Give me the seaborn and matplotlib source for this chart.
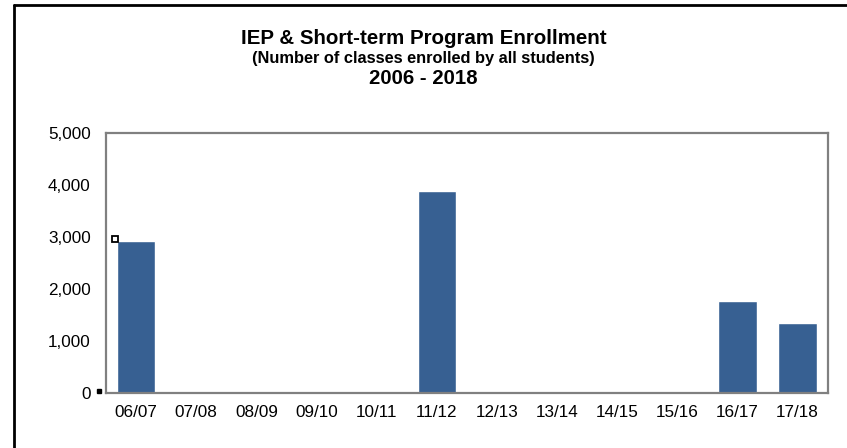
import matplotlib
matplotlib.use("Agg")
import matplotlib.pyplot as plt
import seaborn as sns
import pandas as pd
from matplotlib.lines import Line2D
from matplotlib.ticker import FuncFormatter

# === DATA ===
years = ["06/07", "07/08", "08/09", "09/10", "10/11", "11/12",
         "12/13", "13/14", "14/15", "15/16", "16/17", "17/18"]
enrollment = [2920, 0, 0, 0, 0, 3880, 0, 0, 0, 0, 1765, 1345]
y_ticks = [0, 1000, 2000, 3000, 4000, 5000]

BAR_COLOR = "#376092"

df = pd.DataFrame({"year": years, "classes": enrollment})

sns.set_style("white")
plt.rcParams["font.family"] = ["Liberation Sans", "DejaVu Sans"]
plt.rcParams["text.color"] = "black"

fig = plt.figure(figsize=(8.47, 4.48), dpi=100)
ax = fig.add_axes([106 / 847, 1 - 392.7 / 448, (827.7 - 106) / 847, (392.7 - 132.7) / 448])

sns.barplot(data=df, x="year", y="classes", color=BAR_COLOR, width=0.64,
            saturation=1, ax=ax)

ax.set_ylim(0, 5000)
ax.set_xlim(-0.5, len(years) - 0.5)
ax.set_yticks(y_ticks)
ax.yaxis.set_major_formatter(FuncFormatter(lambda v, p: f"{int(v):,}"))
ax.set_xlabel("")
ax.set_ylabel("")
ax.tick_params(axis="both", length=0, labelsize=12.3, colors="black")
ax.tick_params(axis="y", pad=11)
ax.tick_params(axis="x", pad=9)
for s in ax.spines.values():
    s.set_color("#808080")
    s.set_linewidth(1.6)

# small selection handles left in the original
ax.plot([-0.35], [2960], marker="s", markersize=4, markerfacecolor="white",
        markeredgecolor="black", markeredgewidth=1.3, clip_on=False)
ax.plot([-0.62], [40], marker="s", markersize=3.5, markerfacecolor="black",
        markeredgecolor="black", clip_on=False)

# titles
fig.text(0.5, 1 - 38 / 448, "IEP & Short-term Program Enrollment",
         ha="center", va="center", fontsize=14.8, fontweight="bold")
fig.text(0.5, 1 - 59 / 448, "(Number of classes enrolled by all students)",
         ha="center", va="center", fontsize=11.8, fontweight="bold")
fig.text(0.5, 1 - 79 / 448, "2006 - 2018",
         ha="center", va="center", fontsize=14.7, fontweight="bold")

# outer frame lines
fig.add_artist(Line2D([14 / 847, 1], [1 - 5 / 448, 1 - 5 / 448], color="black",
                      linewidth=2, transform=fig.transFigure))
fig.add_artist(Line2D([14 / 847, 14 / 847], [1 - 5 / 448, 0], color="black",
                      linewidth=2, transform=fig.transFigure))

fig.savefig("out.png", dpi=100)
plt.close(fig)
